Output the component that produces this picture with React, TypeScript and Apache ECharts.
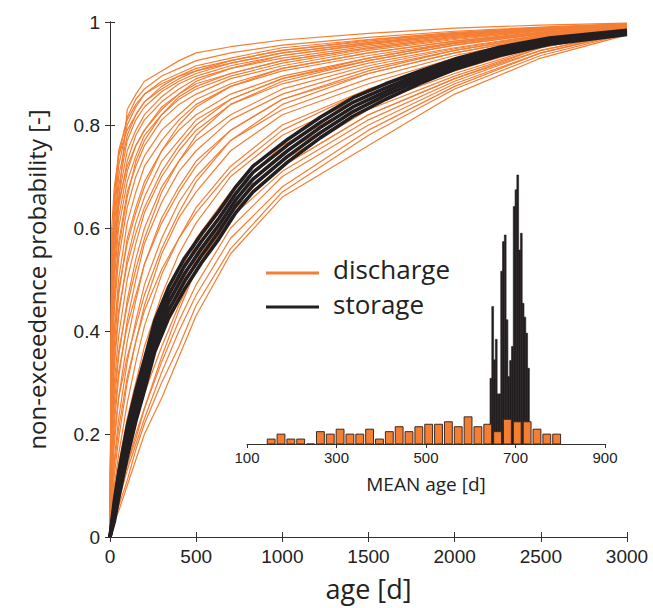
import React, { useEffect, useRef } from "react";
import * as echarts from "echarts";

// ---- main panel: cumulative age distributions ----
const AGE_GRID = [0, 10, 25, 50, 100, 150, 200, 300, 400, 500, 700, 1000, 1500, 2000, 2500, 3000];

const DISCHARGE_CDFS: number[][] = [
  [0, .01, .03, .05, .10, .15, .20, .27, .35, .43, .55, .66, .76, .86, .93, .975],
  [0, .01, .03, .06, .11, .17, .22, .30, .37, .45, .56, .67, .78, .87, .935, .977],
  [0, .02, .04, .07, .13, .18, .23, .32, .40, .47, .58, .68, .79, .875, .94, .978],
  [0, .02, .04, .08, .14, .20, .25, .34, .42, .49, .60, .70, .80, .88, .94, .98],
  [0, .02, .05, .09, .16, .22, .28, .37, .45, .52, .62, .71, .81, .885, .945, .98],
  [0, .03, .06, .10, .18, .24, .30, .40, .48, .55, .64, .73, .83, .895, .95, .982],
  [0, .03, .07, .12, .20, .27, .33, .43, .51, .58, .67, .76, .85, .905, .955, .984],
  [0, .04, .08, .14, .23, .30, .37, .47, .55, .61, .70, .78, .86, .915, .96, .985],
  [0, .05, .10, .16, .26, .34, .41, .51, .58, .64, .72, .80, .87, .92, .962, .986],
  [0, .06, .12, .19, .30, .38, .45, .55, .62, .67, .75, .82, .88, .93, .965, .987],
  [0, .08, .15, .23, .34, .42, .49, .58, .65, .70, .77, .83, .89, .935, .968, .988],
  [0, .10, .18, .27, .38, .46, .53, .62, .68, .73, .79, .85, .90, .94, .97, .989],
  [0, .13, .22, .31, .42, .50, .57, .65, .71, .75, .81, .86, .91, .945, .972, .99],
  [0, .16, .26, .35, .46, .54, .60, .68, .73, .77, .82, .87, .915, .948, .974, .99],
  [0, .19, .30, .39, .50, .57, .63, .70, .75, .79, .84, .88, .92, .95, .975, .99],
  [0, .22, .33, .43, .54, .61, .66, .73, .77, .81, .85, .89, .925, .955, .977, .991],
  [0, .25, .37, .47, .58, .64, .69, .75, .79, .82, .86, .895, .93, .958, .978, .991],
  [0, .28, .40, .50, .61, .67, .72, .77, .81, .84, .875, .905, .935, .96, .98, .992],
  [0, .31, .44, .54, .64, .70, .74, .79, .82, .85, .88, .91, .94, .963, .98, .992],
  [0, .34, .47, .57, .67, .72, .76, .81, .84, .86, .89, .915, .945, .966, .982, .993],
  [0, .37, .50, .60, .69, .74, .78, .82, .85, .87, .895, .92, .948, .968, .983, .993],
  [0, .40, .52, .62, .71, .76, .79, .835, .86, .88, .90, .925, .95, .97, .984, .994],
  [0, .42, .54, .64, .73, .78, .81, .845, .87, .89, .91, .93, .953, .972, .985, .994],
  [0, .44, .56, .66, .75, .79, .82, .855, .88, .895, .915, .935, .956, .974, .986, .995],
  [0, .46, .58, .68, .77, .81, .835, .865, .885, .90, .92, .94, .96, .976, .987, .995],
  [0, .48, .60, .70, .78, .82, .845, .875, .895, .91, .925, .945, .963, .978, .988, .996],
  [0, .50, .62, .72, .80, .835, .86, .885, .90, .915, .93, .95, .966, .98, .989, .996],
  [0, .52, .64, .74, .815, .85, .87, .895, .91, .925, .94, .955, .97, .982, .99, .997],
  [0, .40, .55, .65, .83, .86, .885, .905, .925, .94, .952, .965, .978, .988, .994, .998],
  [0, .55, .66, .75, .81, .84, .86, .88, .895, .905, .92, .94, .96, .975, .986, .995],
  [0, .02, .05, .09, .14, .19, .25, .35, .44, .52, .63, .72, .82, .89, .945, .98],
  [0, .05, .09, .13, .20, .26, .31, .40, .47, .54, .63, .72, .82, .89, .95, .983],
  [0, .12, .20, .27, .35, .41, .47, .56, .63, .69, .77, .84, .90, .94, .97, .989],
  [0, .20, .28, .36, .45, .52, .58, .67, .73, .78, .84, .885, .925, .955, .977, .991],
  [0, .30, .40, .48, .57, .63, .68, .75, .80, .835, .875, .91, .94, .963, .98, .992],
  [0, .45, .57, .65, .72, .76, .79, .83, .86, .885, .91, .935, .958, .975, .987, .995],
  [0, .60, .68, .74, .79, .82, .845, .87, .89, .905, .925, .945, .965, .978, .988, .996],
  [0, .35, .46, .56, .66, .73, .77, .82, .855, .875, .90, .925, .95, .97, .984, .994],
  [0, .08, .14, .21, .31, .38, .44, .52, .58, .63, .71, .79, .87, .925, .962, .986],
  [0, .15, .24, .32, .41, .47, .53, .61, .67, .72, .79, .85, .905, .945, .972, .99],
  [0, .25, .35, .44, .53, .59, .64, .71, .76, .80, .85, .89, .93, .96, .978, .992],
  [0, .03, .06, .11, .19, .26, .32, .42, .50, .57, .66, .745, .84, .90, .952, .983],
];

const STORAGE_AGE_GRID = [0, 25, 50, 100, 150, 200, 260, 340, 430, 530, 630, 730, 830, 1030, 1220, 1410, 1600, 1800, 2000, 2260, 2550, 3000];

const STORAGE_CDFS: number[][] = [
  [0, .07, .125, .215, .285, .345, .42, .485, .54, .588, .632, .68, .72, .772, .815, .853, .88, .905, .928, .951, .969, .984],
  [0, .06, .112, .20, .27, .33, .405, .47, .525, .574, .618, .667, .708, .761, .805, .844, .872, .899, .923, .947, .966, .982],
  [0, .05, .10, .185, .255, .315, .39, .455, .51, .56, .605, .655, .695, .75, .795, .835, .865, .893, .918, .943, .963, .98],
  [0, .04, .088, .17, .24, .30, .375, .44, .495, .546, .592, .643, .683, .739, .785, .826, .858, .887, .913, .939, .96, .978],
  [0, .03, .075, .155, .225, .285, .36, .425, .48, .532, .578, .63, .67, .728, .775, .817, .85, .881, .908, .935, .957, .976],
];

// ---- inset: histograms of MEAN age ----
const MEAN_DISCHARGE_BIN_START = [143, 165, 187, 209, 231, 253, 275, 297, 319, 341, 363, 385, 407, 429, 451, 473, 495, 517, 539, 561, 583, 605, 627, 649, 671, 693, 715, 737, 759, 781];
const MEAN_DISCHARGE_BIN_END = [165, 187, 209, 231, 253, 275, 297, 319, 341, 363, 385, 407, 429, 451, 473, 495, 517, 539, 561, 583, 605, 627, 649, 671, 693, 715, 737, 759, 781, 803];
const MEAN_DISCHARGE_COUNT = [2, 4, 2, 2, 0, 5, 4, 6, 4, 4, 6, 2, 5, 7, 5, 7, 8, 8, 9, 7, 11, 7, 8, 5, 10, 9, 9, 6, 4, 4];

const MEAN_STORAGE_BIN_START = [643, 647, 651, 655, 659, 663, 667, 671, 675, 679, 683, 687, 691, 695, 699, 703, 707, 711, 715, 719, 723, 727];
const MEAN_STORAGE_BIN_END = [647, 651, 655, 659, 663, 667, 671, 675, 679, 683, 687, 691, 695, 699, 703, 707, 711, 715, 719, 723, 727, 731];
const MEAN_STORAGE_HEIGHT = [26.6, 55.7, 34.1, 42.4, 20.3, 20.3, 70, 82, 84.7, 50.3, 27.3, 33.8, 39.5, 96.2, 103, 109, 78.6, 85.4, 57, 51.4, 44.9, 30.7];

const ORANGE = "#f47e34";
const BLACK = "#231f20";
const TEXT = "#222222";
const TITLE_FONT = "Open Sans";

export default function App() {
  const ref = useRef<HTMLDivElement>(null);

  useEffect(() => {
    if (!ref.current) return;
    const chart = echarts.init(ref.current, undefined, { renderer: "svg" });

    const dischargeSeries = DISCHARGE_CDFS.map((vals) => ({
      type: "line",
      xAxisIndex: 0,
      yAxisIndex: 0,
      showSymbol: false,
      silent: true,
      data: AGE_GRID.map((a, i) => [a, vals[i]]),
      lineStyle: { color: ORANGE, width: 1.2 },
      z: 2,
    }));

    const storageSeries = STORAGE_CDFS.map((vals) => ({
      type: "line",
      xAxisIndex: 0,
      yAxisIndex: 0,
      showSymbol: false,
      silent: true,
      data: STORAGE_AGE_GRID.map((a, i) => [a, vals[i]]),
      lineStyle: { color: BLACK, width: 3.6 },
      z: 3,
    }));

    const histItem = (fill: string, stroke: string, lineWidth: number, gap: number) =>
      (params: any, api: any) => {
        const x0 = api.value(0);
        const x1 = api.value(1);
        const h = api.value(2);
        const p0 = api.coord([x0, 0]);
        const p1 = api.coord([x1, h]);
        return {
          type: "rect",
          shape: { x: p0[0] + gap, y: p1[1], width: p1[0] - p0[0] - 2 * gap, height: p0[1] - p1[1] },
          style: { fill, stroke, lineWidth },
        };
      };

    const axisLine = { show: true, lineStyle: { color: "#333", width: 1 } };
    const tick = { show: true, length: 5, lineStyle: { color: "#333" } };
    const tickLabel = { fontSize: 19, fontFamily: "Liberation Sans", color: TEXT };
    const plain = (v: number) => String(v);

    const option: any = {
      animation: false,
      grid: [
        { left: 110, top: 22, width: 517, height: 515 },
        { left: 247, top: 175, width: 358, height: 269 },
      ],
      xAxis: [
        {
          type: "value", gridIndex: 0, min: 0, max: 3000, interval: 500,
          axisLine, axisTick: tick, splitLine: { show: false },
          axisLabel: { ...tickLabel, margin: 10, formatter: plain },
          name: "age [d]", nameLocation: "middle", nameGap: 38,
          nameTextStyle: { fontSize: 27, fontFamily: TITLE_FONT, color: TEXT },
        },
        {
          type: "value", gridIndex: 0, min: 0, max: 3000, interval: 500, position: "top",
          axisLine, axisTick: tick, splitLine: { show: false }, axisLabel: { show: false },
        },
        {
          type: "value", gridIndex: 1, min: 100, max: 900, interval: 200,
          axisLine, axisTick: { show: true, length: 4, lineStyle: { color: "#333" } },
          splitLine: { show: false },
          axisLabel: { fontSize: 15, fontFamily: "Liberation Sans", color: TEXT, margin: 6, formatter: plain },
          name: "MEAN age [d]", nameLocation: "middle", nameGap: 30,
          nameTextStyle: { fontSize: 19, fontFamily: TITLE_FONT, color: TEXT },
        },
      ],
      yAxis: [
        {
          type: "value", gridIndex: 0, min: 0, max: 1, interval: 0.2,
          axisLine, axisTick: tick, splitLine: { show: false },
          axisLabel: { ...tickLabel, margin: 10, formatter: plain },
          name: "non-exceedence probability [-]", nameLocation: "middle", nameGap: 62,
          nameTextStyle: { fontSize: 24, fontFamily: TITLE_FONT, color: TEXT },
        },
        {
          type: "value", gridIndex: 0, min: 0, max: 1, interval: 0.2, position: "right",
          axisLine, axisTick: tick, splitLine: { show: false }, axisLabel: { show: false },
        },
        { type: "value", gridIndex: 1, min: 0, max: 109, show: false },
      ],
      series: [
        ...dischargeSeries,
        ...storageSeries,
        {
          type: "custom", xAxisIndex: 2, yAxisIndex: 2, silent: true, z: 4,
          renderItem: histItem(BLACK, BLACK, 0.6, 0),
          encode: { x: [0, 1], y: 2 },
          data: MEAN_STORAGE_BIN_START.map((s, i) => [s, MEAN_STORAGE_BIN_END[i], MEAN_STORAGE_HEIGHT[i]]),
        },
        {
          type: "custom", xAxisIndex: 2, yAxisIndex: 2, silent: true, z: 5,
          renderItem: histItem(ORANGE, "#3b2a20", 1, 1),
          encode: { x: [0, 1], y: 2 },
          data: MEAN_DISCHARGE_BIN_START.map((s, i) => [s, MEAN_DISCHARGE_BIN_END[i], MEAN_DISCHARGE_COUNT[i]]),
        },
      ],
      graphic: [
        { type: "line", shape: { x1: 266, y1: 273, x2: 319, y2: 273 }, style: { stroke: ORANGE, lineWidth: 3 }, z: 10 },
        { type: "line", shape: { x1: 266, y1: 307, x2: 319, y2: 307 }, style: { stroke: BLACK, lineWidth: 3 }, z: 10 },
        { type: "text", x: 333, y: 269, style: { text: "discharge", fontSize: 26, lineHeight: 28, fontFamily: TITLE_FONT, fill: TEXT, verticalAlign: "middle" }, z: 10 },
        { type: "text", x: 333, y: 304, style: { text: "storage", fontSize: 26, lineHeight: 28, fontFamily: TITLE_FONT, fill: TEXT, verticalAlign: "middle" }, z: 10 },
      ],
    };

    chart.setOption(option);
    return () => chart.dispose();
  }, []);

  return (
    <div
      ref={ref}
      style={{ position: "fixed", left: 0, top: 0, width: 653, height: 608, background: "#fff" }}
    />
  );
}
